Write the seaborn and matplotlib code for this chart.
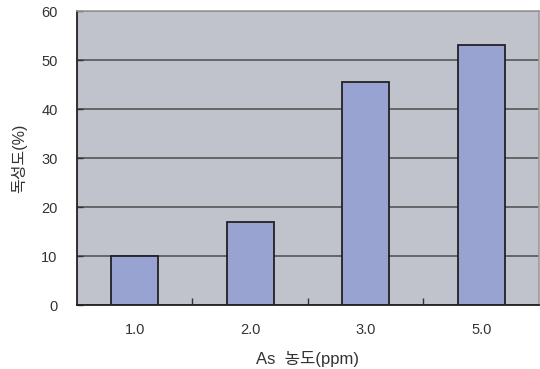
import matplotlib
matplotlib.use("Agg")
import matplotlib.pyplot as plt
from matplotlib.ticker import FixedLocator, MultipleLocator
import seaborn as sns
import pandas as pd

# As concentration groups and measured toxicity
concentrations = ["1.0", "2.0", "3.0", "5.0"]
toxicity = [10, 17, 45.6, 53]

sns.set_theme(style="white")
plt.rcParams["font.family"] = ["Liberation Sans", "Noto Sans CJK KR", "DejaVu Sans"]

df = pd.DataFrame({"conc": concentrations, "tox": toxicity})

fig = plt.figure(figsize=(5.4, 3.69), dpi=100)
ax = fig.add_axes([0.1426, 0.1734, 0.998 - 0.1426, 0.970 - 0.1734])
ax.set_facecolor("#C0C3CC")
ax.set_axisbelow(True)

sns.barplot(data=df, x="conc", y="tox", ax=ax, color="#99A3D2",
            saturation=1, width=0.41, edgecolor="#222222", linewidth=1.3)

ax.set_ylim(0, 60)
ax.set_xlim(-0.5, 3.5)
ax.yaxis.set_major_locator(MultipleLocator(10))
ax.yaxis.grid(True, color="#555555", linewidth=1.2)
ax.xaxis.grid(False)

ax.xaxis.set_minor_locator(FixedLocator([0.5, 1.5, 2.5]))
ax.tick_params(axis="x", which="major", length=0, pad=13, labelsize=10.5, colors="#333333")
ax.tick_params(axis="x", which="minor", direction="in", length=5, width=1, color="#333333", bottom=True)
ax.tick_params(axis="y", which="major", direction="in", length=4, width=1, color="#333333",
               left=True, pad=14, labelsize=10.5, labelcolor="#333333")

for side in ("left", "bottom"):
    ax.spines[side].set_color("#222222")
    ax.spines[side].set_linewidth(1.3)
for side in ("top", "right"):
    ax.spines[side].set_color("#9A9A9A")
    ax.spines[side].set_linewidth(1.2)

ax.set_xlabel("As  농도(ppm)", fontsize=12, color="#333333", labelpad=10)
ax.set_ylabel("독성도(%)", fontsize=11.5, color="#333333", labelpad=10)

fig.savefig("out.png", dpi=100, facecolor="white")
